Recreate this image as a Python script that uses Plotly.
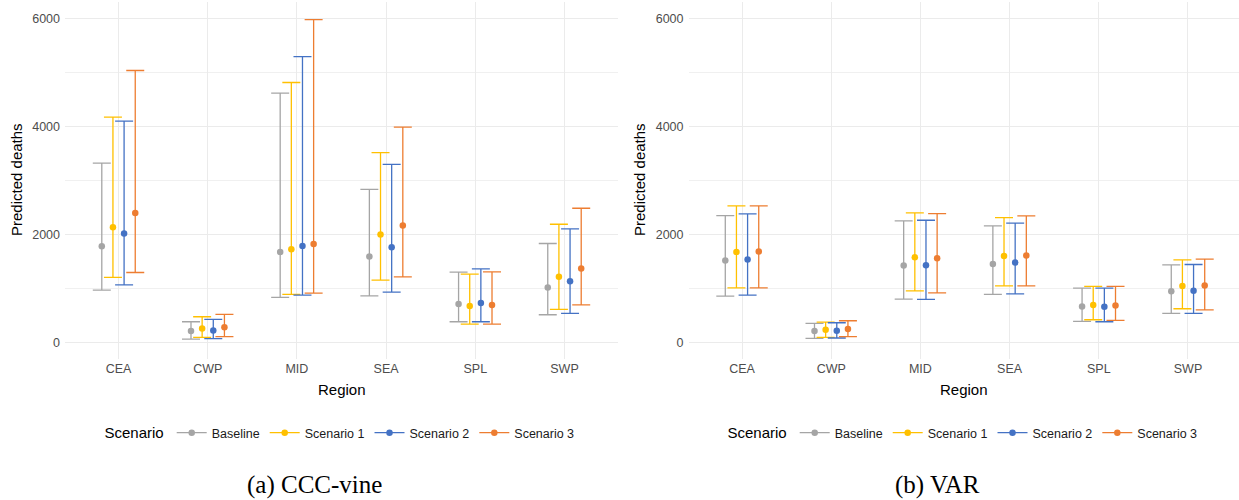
import plotly.graph_objects as go

regions = ["CEA", "CWP", "MID", "SEA", "SPL", "SWP"]
scenarios = ["Baseline", "Scenario 1", "Scenario 2", "Scenario 3"]
colors = ["#A5A5A5", "#FFC000", "#4472C4", "#ED7D31"]

# (a) CCC-vine : estimate, lower, upper
cv_base_est = [1785, 216, 1680, 1595, 714, 1023]
cv_base_lo = [973, 68, 838, 868, 388, 517]
cv_base_hi = [3323, 388, 4615, 2837, 1305, 1835]
cv_s1_est = [2136, 265, 1730, 2001, 677, 1218]
cv_s1_lo = [1207, 99, 893, 1157, 345, 617]
cv_s1_hi = [4172, 480, 4812, 3515, 1268, 2191]
cv_s2_est = [2019, 228, 1791, 1767, 733, 1139]
cv_s2_lo = [1071, 74, 880, 936, 388, 543]
cv_s2_hi = [4098, 431, 5292, 3299, 1366, 2104]
cv_s3_est = [2400, 284, 1828, 2167, 696, 1373]
cv_s3_lo = [1299, 111, 917, 1218, 345, 701]
cv_s3_hi = [5034, 524, 5975, 3987, 1311, 2487]

# (b) VAR : estimate, lower, upper
var_base_est = [1521, 216, 1429, 1458, 672, 954]
var_base_lo = [862, 81, 807, 893, 395, 543]
var_base_hi = [2352, 358, 2252, 2160, 1010, 1440]
var_s1_est = [1680, 240, 1582, 1606, 696, 1047]
var_s1_lo = [1015, 99, 960, 1052, 425, 628]
var_s1_hi = [2529, 382, 2400, 2315, 1041, 1532]
var_s2_est = [1540, 222, 1434, 1484, 665, 960]
var_s2_lo = [880, 87, 801, 905, 388, 543]
var_s2_hi = [2381, 369, 2265, 2210, 1010, 1447]
var_s3_est = [1687, 253, 1564, 1613, 690, 1060]
var_s3_lo = [1015, 111, 923, 1052, 413, 609]
var_s3_hi = [2529, 406, 2389, 2344, 1041, 1545]

y_ticks = [0, 2000, 4000, 6000]

cv_series = [
    (cv_base_est, cv_base_lo, cv_base_hi),
    (cv_s1_est, cv_s1_lo, cv_s1_hi),
    (cv_s2_est, cv_s2_lo, cv_s2_hi),
    (cv_s3_est, cv_s3_lo, cv_s3_hi),
]
var_series = [
    (var_base_est, var_base_lo, var_base_hi),
    (var_s1_est, var_s1_lo, var_s1_hi),
    (var_s2_est, var_s2_lo, var_s2_hi),
    (var_s3_est, var_s3_lo, var_s3_hi),
]

W, H = 1239, 500
FONT = "Liberation Sans, Arial, sans-serif"
dodge = 0.5
n = len(scenarios)

fig = go.Figure()

for panel, (series, xa, ya, leg) in enumerate(
    [(cv_series, "x", "y", "legend"), (var_series, "x2", "y2", "legend2")]
):
    for i, (est, lo, hi) in enumerate(series):
        off = (i - (n - 1) / 2) * dodge / n
        xs = [k + 1 + off for k in range(len(regions))]
        fig.add_trace(go.Scatter(
            x=xs, y=est, mode="markers", xaxis=xa, yaxis=ya,
            marker=dict(color=colors[i], size=6.5, line=dict(width=0)),
            error_y=dict(type="data", symmetric=False,
                         array=[h - e for h, e in zip(hi, est)],
                         arrayminus=[e - l for e, l in zip(est, lo)],
                         color=colors[i], thickness=1.3, width=9),
            showlegend=False, name=scenarios[i],
        ))
    for i in range(n):
        fig.add_trace(go.Scatter(
            x=[None], y=[None], mode="lines+markers", xaxis=xa, yaxis=ya,
            line=dict(color=colors[i], width=1.3),
            marker=dict(color=colors[i], size=6.5),
            name=scenarios[i], legend=leg, showlegend=True,
        ))

px_per_unit = (618 - 65) / 6.2
x1_dom = [65 / W, 618 / W]
x2_dom = [688.5 / W, 1.0]
x2_end = 0.4 + (W - 688.5) / px_per_unit
y_dom = [(H - 359) / H, (H - 2) / H]
y_rng = [-301, 6301]

xcommon = dict(tickvals=list(range(1, len(regions) + 1)), ticktext=regions,
               showgrid=True, gridcolor="#EBEBEB", gridwidth=1.1,
               zeroline=False, showline=False, ticks="",
               tickfont=dict(family=FONT, size=12.5, color="#4D4D4D"))
ycommon = dict(range=y_rng, domain=y_dom, tickvals=y_ticks,
               showgrid=True, gridcolor="#EBEBEB", gridwidth=1.1,
               zeroline=False, showline=False, ticks="",
               ticklabelstandoff=4,
               minor=dict(tick0=0, dtick=1000, showgrid=True,
                          gridcolor="#F0F0F0", gridwidth=0.8),
               tickfont=dict(family=FONT, size=12.5, color="#4D4D4D"))

fig.update_layout(
    width=W, height=H,
    margin=dict(l=0, r=0, t=0, b=0),
    paper_bgcolor="white", plot_bgcolor="white",
    font=dict(family=FONT),
    xaxis=dict(domain=x1_dom, range=[0.4, 6.6], anchor="y", **xcommon),
    xaxis2=dict(domain=x2_dom, range=[0.4, x2_end], anchor="y2", **xcommon),
    yaxis=dict(anchor="x", **ycommon),
    yaxis2=dict(anchor="x2", **ycommon),
    legend=dict(orientation="h", x=341 / W, xanchor="center",
                y=(H - 433) / H, yanchor="middle",
                title=dict(text="Scenario", side="left",
                           font=dict(family=FONT, size=15, color="black")),
                font=dict(family=FONT, size=12.5, color="#1A1A1A"),
                itemwidth=30, bgcolor="rgba(0,0,0,0)"),
    legend2=dict(orientation="h", x=964 / W, xanchor="center",
                 y=(H - 433) / H, yanchor="middle",
                 title=dict(text="Scenario", side="left",
                            font=dict(family=FONT, size=15, color="black")),
                 font=dict(family=FONT, size=12.5, color="#1A1A1A"),
                 itemwidth=30, bgcolor="rgba(0,0,0,0)"),
)

annots = [
    dict(text="Predicted deaths", x=16 / W, y=(H - 180) / H, textangle=-90),
    dict(text="Predicted deaths", x=639 / W, y=(H - 180) / H, textangle=-90),
    dict(text="Region", x=341.5 / W, y=(H - 389) / H),
    dict(text="Region", x=964 / W, y=(H - 389) / H),
]
for a in annots:
    fig.add_annotation(xref="paper", yref="paper", showarrow=False,
                       xanchor="center", yanchor="middle",
                       font=dict(family=FONT, size=15, color="black"), **a)

for txt, cx in [("(a) CCC-vine", 314.5), ("(b) VAR", 937.5)]:
    fig.add_annotation(xref="paper", yref="paper", showarrow=False,
                       x=cx / W, y=0.0, xanchor="center",
                       yanchor="bottom", text=txt, borderpad=0,
                       font=dict(family="Liberation Serif, serif", size=25,
                                 color="black"))

fig.write_html("out.html")
